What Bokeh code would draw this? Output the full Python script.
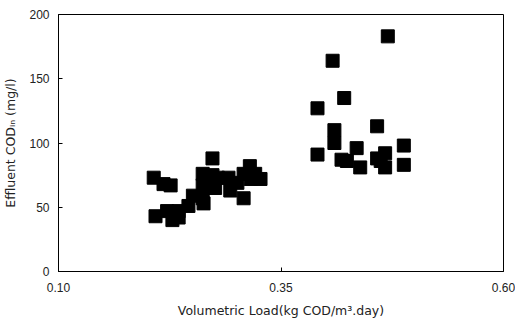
from bokeh.plotting import figure
from bokeh.embed import file_html
from bokeh.resources import INLINE
from bokeh.models import FixedTicker, NumeralTickFormatter, Range1d

# Volumetric load (kg COD/m3.day)
load = [0.207, 0.218, 0.226, 0.209, 0.222, 0.228, 0.235, 0.235, 0.246, 0.251,
        0.262, 0.263, 0.262, 0.262, 0.273, 0.273, 0.279, 0.276, 0.291, 0.293,
        0.308, 0.308, 0.315, 0.316, 0.327, 0.301, 0.321,
        0.470, 0.408, 0.391, 0.421, 0.410, 0.410, 0.391, 0.435, 0.418,
        0.424, 0.439, 0.458, 0.458, 0.467, 0.467, 0.488, 0.488, 0.462]
# Effluent COD (mg/l)
cod = [73, 68, 67, 43, 47, 40, 42, 47, 51, 59,
       57, 53, 67, 76, 88, 75, 73, 65, 73, 63,
       76, 57, 82, 72, 72, 69, 76,
       183, 164, 127, 135, 110, 100, 91, 96, 87,
       86, 81, 113, 88, 92, 81, 98, 83, 86]

x_ticks = [0.10, 0.35, 0.60]
y_ticks = [0, 50, 100, 150, 200]

TICK_FONT = "Liberation Sans"
LABEL_FONT = "DejaVu Sans"

p = figure(width=515, height=324, frame_width=445, frame_height=257,
           output_backend="svg", toolbar_location=None,
           x_range=Range1d(0.1, 0.6), y_range=Range1d(0, 200),
           min_border_left=58, min_border_right=12,
           min_border_top=14, min_border_bottom=53)

p.scatter(load, cod, marker="square", size=13, fill_color="black",
          line_color="black")

p.xgrid.visible = False
p.ygrid.visible = False
p.outline_line_color = "black"
p.outline_line_width = 1
p.background_fill_color = "white"
p.border_fill_color = "white"

p.xaxis.ticker = FixedTicker(ticks=x_ticks)
p.xaxis.formatter = NumeralTickFormatter(format="0.00")
p.yaxis.ticker = FixedTicker(ticks=y_ticks)

for ax in (p.xaxis[0], p.yaxis[0]):
    ax.axis_line_color = "black"
    ax.major_tick_line_color = "black"
    ax.major_tick_in = 4
    ax.major_tick_out = 0
    ax.minor_tick_line_color = None
    ax.major_label_text_font = TICK_FONT
    ax.major_label_text_font_size = "12px"
    ax.major_label_text_color = "#222222"
    ax.axis_label_text_font = LABEL_FONT
    ax.axis_label_text_font_size = "12.5px"
    ax.axis_label_text_font_style = "normal"
    ax.axis_label_text_color = "#222222"

p.xaxis.axis_label = "Volumetric Load(kg COD/m\u00b3.day)"
p.yaxis.axis_label = "Effluent COD\u1d62\u2099 (mg/l)"
p.xaxis.major_label_standoff = 11
p.yaxis.major_label_standoff = 9
p.xaxis.axis_label_standoff = 8
p.yaxis.axis_label_standoff = 8

open("out.html", "w").write(file_html(p, INLINE))
